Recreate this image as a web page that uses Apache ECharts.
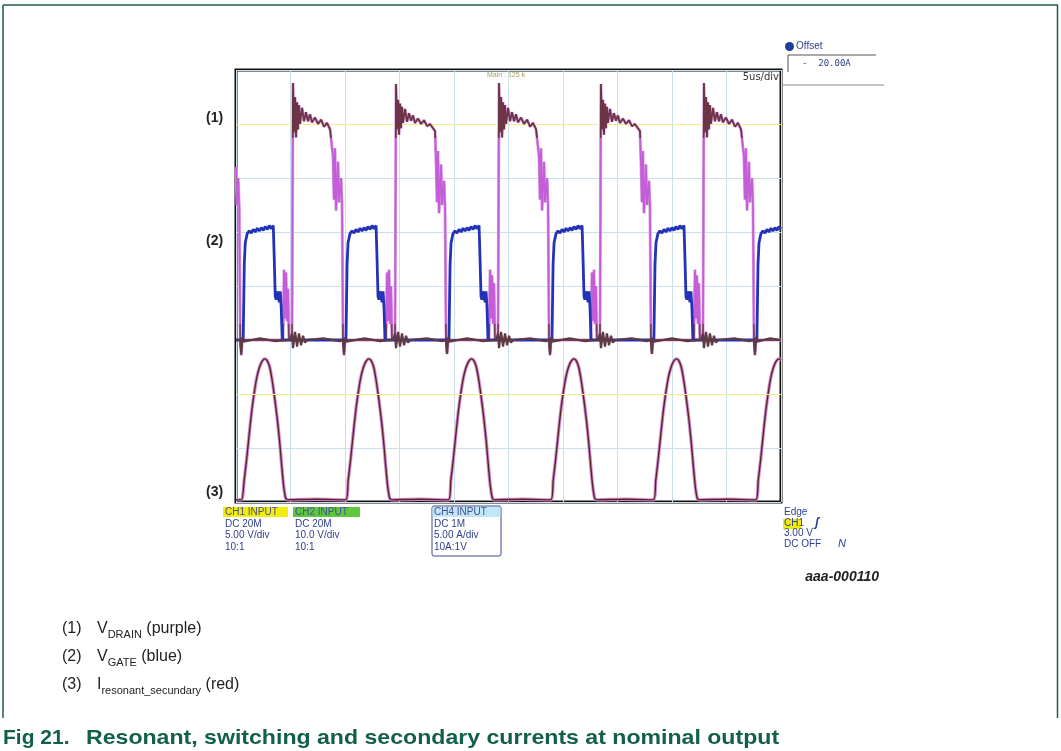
<!DOCTYPE html>
<html><head><meta charset="utf-8">
<script src="https://cdn.jsdelivr.net/npm/echarts@6/dist/echarts.min.js"></script>
<style>html,body{margin:0;padding:0;background:#fff;}#c{width:1061px;height:751px;}</style>
</head><body><div id="c"></div>
<script>
// Time axis: 10 div x 5 us = 50 us ; vertical axis in screen divisions (0..8)
const timeRange = [0, 50];
const divRange = [0, 8];
const refLevels = [7, 2];

// (1) V_DRAIN trace  [t(us), div]
const drain = [
[0,6.2],[0.1,5.5],[0.2,6.0],[0.3,5.45],[0.39,3.0],[0.48,2.72],[0.57,3.0],
[4.31,3.0],[4.41,4.3],[4.50,3.4],[4.59,4.25],[4.68,3.35],[4.77,3.95],[4.86,3.0],[5.14,3.0],
[5.23,7.76],[5.32,6.85],[5.42,7.5],[5.51,6.75],[5.60,7.4],[5.69,6.9],[5.78,7.35],[5.87,7.0],[6.06,7.3],[6.24,7.05],[6.42,7.22],[6.61,7.05],[6.79,7.18],[6.97,7.03],[7.25,7.12],[7.53,7.0],[7.80,7.08],[8.08,6.95],[8.35,7.02],[8.63,6.9],[8.81,6.88],
[8.90,6.4],[8.99,5.6],[9.08,6.55],[9.18,5.4],[9.36,6.3],[9.45,5.55],[9.64,6.0],[9.73,5.5],[9.82,3.0],[9.91,2.72],[10.00,3.0],
[13.76,3.0],[13.86,4.25],[13.95,3.35],[14.04,4.3],[14.13,3.3],[14.22,4.0],[14.31,3.0],[14.59,3.0],
[14.68,7.74],[14.77,6.9],[14.87,7.45],[14.96,6.8],[15.05,7.38],[15.14,6.92],[15.23,7.32],[15.32,7.02],[15.51,7.28],[15.69,7.04],[15.87,7.2],[16.06,7.06],[16.24,7.16],[16.42,7.02],[16.70,7.1],[16.98,7.0],[17.25,7.07],[17.53,6.96],[17.80,7.0],[18.08,6.92],[18.26,6.87],
[18.35,6.3],[18.44,5.55],[18.53,6.5],[18.63,5.35],[18.81,6.25],[18.90,5.5],[19.09,5.95],[19.18,5.45],[19.27,3.0],[19.36,2.74],[19.45,3.0],
[23.21,3.0],[23.31,4.3],[23.40,3.4],[23.49,4.2],[23.58,3.3],[23.67,4.05],[23.76,3.0],[24.04,3.0],
[24.13,7.76],[24.22,6.85],[24.32,7.5],[24.41,6.75],[24.50,7.4],[24.59,6.9],[24.68,7.35],[24.77,7.0],[24.96,7.3],[25.14,7.05],[25.32,7.22],[25.51,7.05],[25.69,7.18],[25.87,7.03],[26.15,7.12],[26.43,7.0],[26.70,7.08],[26.98,6.95],[27.25,7.02],[27.53,6.9],[27.71,6.88],
[27.80,6.4],[27.89,5.6],[27.98,6.55],[28.08,5.4],[28.26,6.3],[28.35,5.55],[28.54,6.0],[28.63,5.5],[28.72,3.0],[28.81,2.72],[28.90,3.0],
[32.56,3.0],[32.66,4.25],[32.75,3.35],[32.84,4.3],[32.93,3.3],[33.02,4.0],[33.11,3.0],[33.39,3.0],
[33.48,7.74],[33.57,6.9],[33.67,7.45],[33.76,6.8],[33.85,7.38],[33.94,6.92],[34.03,7.32],[34.12,7.02],[34.31,7.28],[34.49,7.04],[34.67,7.2],[34.86,7.06],[35.04,7.16],[35.22,7.02],[35.50,7.1],[35.78,7.0],[36.05,7.07],[36.33,6.96],[36.60,7.0],[36.88,6.92],[37.06,6.87],
[37.15,6.3],[37.24,5.55],[37.33,6.5],[37.43,5.35],[37.61,6.25],[37.70,5.5],[37.89,5.95],[37.98,5.45],[38.07,3.0],[38.16,2.74],[38.25,3.0],
[42.01,3.0],[42.11,4.3],[42.20,3.4],[42.29,4.2],[42.38,3.3],[42.47,4.05],[42.56,3.0],[42.84,3.0],
[42.93,7.76],[43.02,6.85],[43.12,7.5],[43.21,6.75],[43.30,7.4],[43.39,6.9],[43.48,7.35],[43.57,7.0],[43.76,7.3],[43.94,7.05],[44.12,7.22],[44.31,7.05],[44.49,7.18],[44.67,7.03],[44.95,7.12],[45.23,7.0],[45.50,7.08],[45.78,6.95],[46.05,7.02],[46.33,6.9],[46.51,6.88],
[46.60,6.4],[46.69,5.6],[46.78,6.55],[46.88,5.4],[47.06,6.3],[47.15,5.55],[47.34,6.0],[47.43,5.5],[47.52,3.0],[47.61,2.72],[47.70,3.0],[50,3.0]
];

// (2) V_GATE trace
const gate = [
[0,3.0],[0.66,3.0],[0.76,4.4],[0.85,4.8],[1.03,4.97],[1.21,5.02],[1.40,4.98],[1.58,5.05],[1.77,5.0],[1.95,5.07],[2.13,5.02],[2.32,5.08],[2.50,5.03],[2.68,5.1],[2.87,5.05],[3.05,5.12],[3.23,5.06],[3.42,5.12],
[3.51,4.5],[3.60,3.8],[3.69,3.75],[3.78,3.9],[3.87,3.85],[3.97,3.7],[4.06,3.9],[4.15,3.6],[4.24,3.0],
[10.09,3.0],[10.19,4.4],[10.28,4.8],[10.46,4.97],[10.64,5.02],[10.83,4.98],[11.01,5.05],[11.20,5.0],[11.38,5.07],[11.56,5.02],[11.75,5.08],[11.93,5.03],[12.11,5.1],[12.30,5.05],[12.48,5.12],[12.66,5.06],[12.85,5.12],
[12.94,4.5],[13.03,3.8],[13.12,3.75],[13.21,3.9],[13.30,3.85],[13.40,3.7],[13.49,3.9],[13.58,3.6],[13.67,3.0],
[19.54,3.0],[19.64,4.4],[19.73,4.8],[19.91,4.97],[20.09,5.02],[20.28,4.98],[20.46,5.05],[20.65,5.0],[20.83,5.07],[21.01,5.02],[21.20,5.08],[21.38,5.03],[21.56,5.1],[21.75,5.05],[21.93,5.12],[22.11,5.06],[22.30,5.12],
[22.39,4.5],[22.48,3.8],[22.57,3.75],[22.66,3.9],[22.75,3.85],[22.85,3.7],[22.94,3.9],[23.03,3.6],[23.12,3.0],
[28.99,3.0],[29.09,4.4],[29.18,4.8],[29.36,4.97],[29.54,5.02],[29.73,4.98],[29.91,5.05],[30.10,5.0],[30.28,5.07],[30.46,5.02],[30.65,5.08],[30.83,5.03],[31.01,5.1],[31.20,5.05],[31.38,5.12],[31.56,5.06],[31.75,5.12],
[31.84,4.5],[31.93,3.8],[32.02,3.75],[32.11,3.9],[32.20,3.85],[32.30,3.7],[32.39,3.9],[32.48,3.6],[32.57,3.0],
[38.34,3.0],[38.44,4.4],[38.53,4.8],[38.71,4.97],[38.89,5.02],[39.08,4.98],[39.26,5.05],[39.45,5.0],[39.63,5.07],[39.81,5.02],[40.00,5.08],[40.18,5.03],[40.36,5.1],[40.55,5.05],[40.73,5.12],[40.91,5.06],[41.10,5.12],
[41.19,4.5],[41.28,3.8],[41.37,3.75],[41.46,3.9],[41.55,3.85],[41.65,3.7],[41.74,3.9],[41.83,3.6],[41.92,3.0],
[47.79,3.0],[47.89,4.4],[47.98,4.8],[48.16,4.97],[48.34,5.02],[48.53,4.98],[48.71,5.05],[48.90,5.0],[49.08,5.07],[49.26,5.02],[49.45,5.08],[49.63,5.03],[49.81,5.1],[50.0,5.06]
];

// (3) I_resonant_secundary trace
const current = [
[0,0.04],
[0.52,0.04],[0.75,0.4],[0.98,0.8],[1.21,1.25],[1.44,1.68],[1.67,2.02],[1.90,2.3],[2.13,2.48],[2.35,2.59],[2.63,2.65],[2.86,2.62],[3.09,2.5],[3.32,2.25],[3.55,1.92],[3.78,1.55],[4.01,1.1],[4.19,0.68],[4.37,0.3],[4.56,0.07],[4.74,0.04],
[7.4,0.05],
[10.06,0.04],[10.29,0.4],[10.52,0.8],[10.75,1.25],[10.98,1.68],[11.21,2.02],[11.44,2.3],[11.67,2.48],[11.89,2.59],[12.17,2.65],[12.40,2.62],[12.63,2.5],[12.86,2.25],[13.09,1.92],[13.32,1.55],[13.55,1.1],[13.73,0.68],[13.91,0.3],[14.10,0.07],[14.28,0.04],
[16.9,0.05],
[19.48,0.04],[19.71,0.4],[19.94,0.8],[20.17,1.25],[20.40,1.68],[20.63,2.02],[20.86,2.3],[21.09,2.48],[21.31,2.59],[21.59,2.65],[21.82,2.62],[22.05,2.5],[22.28,2.25],[22.51,1.92],[22.74,1.55],[22.97,1.1],[23.15,0.68],[23.33,0.3],[23.52,0.07],[23.70,0.04],
[26.3,0.05],
[28.87,0.04],[29.10,0.4],[29.33,0.8],[29.56,1.25],[29.79,1.68],[30.02,2.02],[30.25,2.3],[30.48,2.48],[30.70,2.59],[30.98,2.65],[31.21,2.62],[31.44,2.5],[31.67,2.25],[31.90,1.92],[32.13,1.55],[32.36,1.1],[32.54,0.68],[32.72,0.3],[32.91,0.07],[33.09,0.04],
[35.7,0.05],
[38.28,0.04],[38.51,0.4],[38.74,0.8],[38.97,1.25],[39.20,1.68],[39.43,2.02],[39.66,2.3],[39.89,2.48],[40.11,2.59],[40.39,2.65],[40.62,2.62],[40.85,2.5],[41.08,2.25],[41.31,1.92],[41.54,1.55],[41.77,1.1],[41.95,0.68],[42.13,0.3],[42.32,0.07],[42.50,0.04],
[45.1,0.05],
[47.68,0.04],[47.91,0.4],[48.14,0.8],[48.37,1.25],[48.60,1.68],[48.83,2.02],[49.06,2.3],[49.29,2.48],[49.51,2.59],[49.79,2.65],[50.0,2.63]
];

// common ground trace (brown line at 3 div with switching ringing)
const baseline = [
[0,3.0],[0.39,3.0],[0.48,2.75],[0.57,3.05],[0.66,2.97],[0.75,3.0],[2.2,3.03],[3.6,2.98],[4.96,3.0],
[5.14,3.12],[5.23,2.85],[5.42,3.15],[5.60,2.88],[5.78,3.12],[5.97,2.9],[6.15,3.08],[6.33,2.95],[6.52,3.0],[8.0,3.03],[9.5,2.98],[9.82,3.0],[9.91,2.75],[10.0,3.05],[10.1,2.97],[10.2,3.0],[11.8,3.03],[13.2,2.98],[14.41,3.0],
[14.59,3.12],[14.68,2.85],[14.87,3.15],[15.05,2.88],[15.23,3.12],[15.42,2.9],[15.60,3.08],[15.78,2.95],[15.97,3.0],[17.5,3.03],[18.9,2.98],[19.27,3.0],[19.36,2.75],[19.45,3.05],[19.55,2.97],[19.65,3.0],[21.2,3.03],[22.7,2.98],[23.86,3.0],
[24.04,3.12],[24.13,2.85],[24.32,3.15],[24.50,2.88],[24.68,3.12],[24.87,2.9],[25.05,3.08],[25.23,2.95],[25.42,3.0],[27.0,3.03],[28.4,2.98],[28.72,3.0],[28.81,2.75],[28.90,3.05],[29.0,2.97],[29.1,3.0],[30.6,3.03],[32.0,2.98],[33.21,3.0],
[33.39,3.12],[33.48,2.85],[33.67,3.15],[33.85,2.88],[34.03,3.12],[34.22,2.9],[34.40,3.08],[34.58,2.95],[34.77,3.0],[36.3,3.03],[37.7,2.98],[38.07,3.0],[38.16,2.75],[38.25,3.05],[38.35,2.97],[38.45,3.0],[40.0,3.03],[41.4,2.98],[42.66,3.0],
[42.84,3.12],[42.93,2.85],[43.12,3.15],[43.30,2.88],[43.48,3.12],[43.67,2.9],[43.85,3.08],[44.03,2.95],[44.22,3.0],[45.7,3.03],[47.1,2.98],[47.52,3.0],[47.61,2.75],[47.70,3.05],[47.8,2.97],[47.9,3.0],[49.0,3.03],[50,3.0]
];

const traceLabels = ['(1)', '(2)', '(3)'];
const channelInfo = [
  ['CH1 INPUT', 'DC 20M', '5.00 V/div', '10:1'],
  ['CH2 INPUT', 'DC 20M', '10.0 V/div', '10:1'],
  ['CH4 INPUT', 'DC 1M', '5.00 A/div', '10A:1V']
];
const triggerInfo = ['Edge', 'CH1', '3.00 V', 'DC OFF'];
const legendItems = [
  ['(1)', 'V', 'DRAIN', ' (purple)'],
  ['(2)', 'V', 'GATE', ' (blue)'],
  ['(3)', 'I', 'resonant_secundary', ' (red)']
];
const captionNum = 'Fig 21.';
const captionText = 'Resonant, switching and secondary currents at nominal output';

const chart = echarts.init(document.getElementById('c'), null, {renderer: 'canvas'});

const SC = "'Liberation Sans', Arial, sans-serif";
const blueTxt = '#2e3f8f';
const g = [];
// figure frame
g.push({type:'line', shape:{x1:3,y1:5,x2:1058,y2:5}, style:{stroke:'#1d5a48', lineWidth:1.5}});
g.push({type:'line', shape:{x1:3,y1:5,x2:3,y2:718}, style:{stroke:'#1d5a48', lineWidth:1.5}});
g.push({type:'line', shape:{x1:1057.5,y1:5,x2:1057.5,y2:718}, style:{stroke:'#1d5a48', lineWidth:1.5}});
// trace labels
const labelY = [118, 241, 492];
traceLabels.forEach((t,i)=>g.push({type:'text', x:206, y:labelY[i], style:{text:t, font:"bold 14px "+SC, fill:'#222', verticalAlign:'middle'}}));
// top texts
g.push({type:'text', x:506, y:75, style:{text:'Main : 125 k', font:"7px "+SC, fill:'#a4a45e', align:'center', verticalAlign:'middle'}});
g.push({type:'text', x:779, y:77, style:{text:'5us/div', font:"10px 'DejaVu Sans', sans-serif", fill:'#333', align:'right', verticalAlign:'middle'}, z:10});
g.push({type:'circle', shape:{cx:789.5, cy:46.5, r:4.5}, style:{fill:'#1e3d98'}});
g.push({type:'text', x:796, y:46.5, style:{text:'Offset', font:"10px "+SC, fill:blueTxt, verticalAlign:'middle'}});
g.push({type:'line', shape:{x1:788,y1:55,x2:876,y2:55}, style:{stroke:'#555', lineWidth:1}});
g.push({type:'line', shape:{x1:788,y1:55,x2:788,y2:72}, style:{stroke:'#555', lineWidth:1}});
g.push({type:'text', x:802, y:63.5, style:{text:'-  20.00A', font:"9px 'DejaVu Sans Mono', monospace", fill:blueTxt, verticalAlign:'middle'}});
g.push({type:'line', shape:{x1:781,y1:85,x2:884,y2:85}, style:{stroke:'#888', lineWidth:1}});
// channel boxes
const colX = [223, 293, 432];
const hdrBg = ['#f2ee00', '#5ec83c', '#bfe7f6'];
const hdrW = [65, 67, 68];
g.push({type:'rect', shape:{x:432, y:506, width:69, height:50, r:2}, style:{fill:'none', stroke:'#3a4a8a', lineWidth:1}});
channelInfo.forEach((col,i)=>{
  g.push({type:'rect', shape:{x:colX[i]+(i==2?0.5:0), y:507, width:hdrW[i], height:10}, style:{fill:hdrBg[i]}});
  col.forEach((t,j)=>g.push({type:'text', x:colX[i]+2, y:512+j*11.8, style:{text:t, font:"10px "+SC, fill: j==0 ? '#4b4f95' : blueTxt, verticalAlign:'middle'}}));
});
// trigger
g.push({type:'rect', shape:{x:783, y:519, width:18, height:10}, style:{fill:'#f2ee00'}});
triggerInfo.forEach((t,j)=>g.push({type:'text', x:784, y:512+j*10.8, style:{text:t, font:"10px "+SC, fill:blueTxt, verticalAlign:'middle'}}));
g.push({type:'text', x:815, y:523, style:{text:'ʃ', font:"italic bold 12px "+SC, fill:'#2a3a9a', verticalAlign:'middle'}});
g.push({type:'text', x:838, y:544, style:{text:'N', font:"italic 11px "+SC, fill:'#2a3a9a', verticalAlign:'middle'}});
g.push({type:'text', x:879, y:577, style:{text:'aaa-000110', font:"italic bold 14px "+SC, fill:'#222', align:'right', verticalAlign:'middle'}});
// legend below
const legY = [629, 657, 685];
legendItems.forEach((it,i)=>{
  g.push({type:'text', x:62, y:legY[i], style:{text:it[0], font:"16px "+SC, fill:'#222', verticalAlign:'middle'}});
  g.push({type:'text', x:97, y:legY[i]-11, style:{text:'{a|'+it[1]+'}{s|'+it[2]+'}{a|'+it[3]+'}', fill:'#222', rich:{a:{font:"16px "+SC, fill:'#222', lineHeight:22, verticalAlign:'middle'}, s:{font:"11px "+SC, fill:'#222', lineHeight:12, verticalAlign:'bottom'}}}});
});
g.push({type:'text', x:3, y:738, style:{text:captionNum, font:"bold 21px "+SC, fill:'#12604b', verticalAlign:'middle'}});
g.push({type:'text', x:86, y:738, scaleX:1.1, style:{text:captionText, font:"bold 21px "+SC, fill:'#12604b', verticalAlign:'middle'}});

const lineBase = {type:'line', showSymbol:false, symbol:'none', animation:false, silent:true};
chart.setOption({
  animation:false,
  backgroundColor:'#fff',
  grid:{left:236, top:70, width:545, height:432, show:true, borderColor:'#111', borderWidth:3, backgroundColor:'#fff'},
  xAxis:{type:'value', min:timeRange[0], max:timeRange[1], interval:5, axisLabel:{show:false}, axisTick:{show:false}, axisLine:{show:false}, splitLine:{lineStyle:{color:'#cadfea', width:1}}},
  yAxis:{type:'value', min:divRange[0], max:divRange[1], interval:1, axisLabel:{show:false}, axisTick:{show:false}, axisLine:{show:false}, splitLine:{lineStyle:{color:'#cadfea', width:1}}},
  visualMap:{type:'piecewise', show:false, seriesIndex:4, dimension:1,
    pieces:[{gte:6.75, color:'#6b3447'},{gte:3.3, lt:6.75, color:'#c45ed8'},{lt:3.3, color:'#7a4060'}]},
  series:[
    Object.assign({}, lineBase, {name:'ref', data:[], z:1,
      markLine:{silent:true, symbol:'none', label:{show:false}, lineStyle:{color:'#efec94', type:'solid', width:1},
        data: refLevels.map(v=>({yAxis:v}))}}),
    Object.assign({}, lineBase, {name:'current halo', data:current, smooth:0.2, z:2, lineStyle:{color:'#d28ed2', width:3.4}}),
    Object.assign({}, lineBase, {name:'I_resonant_secundary', data:current, smooth:0.2, z:3, lineStyle:{color:'#5c2326', width:1.4}}),
    Object.assign({}, lineBase, {name:'drain halo', data:drain, z:4, lineStyle:{color:'#dc9be6', width:3}}),
    Object.assign({}, lineBase, {name:'V_DRAIN', data:drain, z:5, lineStyle:{width:1.8}}),
    Object.assign({}, lineBase, {name:'V_GATE', data:gate, z:6, lineStyle:{color:'#2233b8', width:2.8}}),
    Object.assign({}, lineBase, {name:'ground', data:baseline, z:7, lineStyle:{color:'#5d3a44', width:2.2}})
  ],
  graphic:{elements:g}
});
</script></body></html>
